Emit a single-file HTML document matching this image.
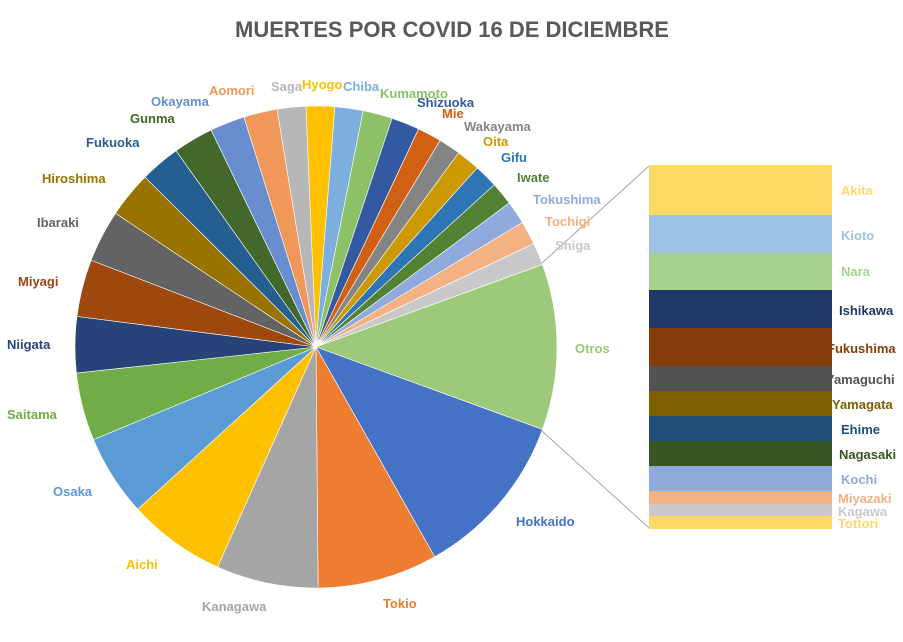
<!DOCTYPE html>
<html><head><meta charset="utf-8"><style>
html,body{margin:0;padding:0;background:#fff;}
svg{display:block;}
text{font-family:"Liberation Sans",Arial,sans-serif;font-weight:bold;font-size:13px;}
</style></head><body>
<svg id="s" width="903" height="642" viewBox="0 0 903 642" xmlns="http://www.w3.org/2000/svg">
<rect width="903" height="642" fill="#fff"/>
<text x="452" y="37" text-anchor="middle" style="font-size:22px" fill="#595959">MUERTES POR COVID 16 DE DICIEMBRE</text>
<g id="pie"></g>
<line x1="542" y1="263" x2="649" y2="166" stroke="#A6A6A6" stroke-width="1"/>
<line x1="542" y1="431" x2="649" y2="528" stroke="#A6A6A6" stroke-width="1"/>
<g>
<rect x="649" y="165" width="183" height="50" fill="#FFD966"/>
<rect x="649" y="215" width="183" height="38" fill="#9DC3E6"/>
<rect x="649" y="253" width="183" height="37" fill="#A9D18E"/>
<rect x="649" y="290" width="183" height="38" fill="#203864"/>
<rect x="649" y="328" width="183" height="38" fill="#843C0C"/>
<rect x="649" y="366" width="183" height="25" fill="#525252"/>
<rect x="649" y="391" width="183" height="25" fill="#7F6000"/>
<rect x="649" y="416" width="183" height="25" fill="#1F4E79"/>
<rect x="649" y="441" width="183" height="25" fill="#375623"/>
<rect x="649" y="466" width="183" height="25" fill="#8FAADC"/>
<rect x="649" y="491" width="183" height="13" fill="#F4B183"/>
<rect x="649" y="504" width="183" height="12" fill="#C9C9C9"/>
<rect x="649" y="516" width="183" height="13" fill="#FFD966"/>
</g>
<g>
<text x="841" y="195" fill="#FFD966">Akita</text>
<text x="841" y="240" fill="#9DC3E6">Kioto</text>
<text x="841" y="276" fill="#A9D18E">Nara</text>
<text x="839" y="315" fill="#203864">Ishikawa</text>
<text x="827" y="353" fill="#843C0C">Fukushima</text>
<text x="826" y="384" fill="#525252">Yamaguchi</text>
<text x="832" y="409" fill="#7F6000">Yamagata</text>
<text x="841" y="434" fill="#1F4E79">Ehime</text>
<text x="839" y="459" fill="#375623">Nagasaki</text>
<text x="841" y="484" fill="#8FAADC">Kochi</text>
<text x="838" y="503" fill="#F4B183">Miyazaki</text>
<text x="838" y="516" fill="#C9C9C9">Kagawa</text>
<text x="838" y="528" fill="#FFD966">Tottori</text>
</g>
<g>
<text x="271" y="91" fill="#B7B7B7">Saga</text>
<text x="302" y="89" fill="#FFC000">Hyogo</text>
<text x="343" y="91" fill="#7CAFDD">Chiba</text>
<text x="380" y="98" fill="#8CC168">Kumamoto</text>
<text x="417" y="107" fill="#335AA1">Shizuoka</text>
<text x="442" y="118" fill="#D26012">Mie</text>
<text x="464" y="131" fill="#848484">Wakayama</text>
<text x="483" y="146" fill="#CC9A00">Oita</text>
<text x="501" y="162" fill="#2E75B6">Gifu</text>
<text x="517" y="182" fill="#548235">Iwate</text>
<text x="533" y="204" fill="#8FAADC">Tokushima</text>
<text x="545" y="226" fill="#F4B183">Tochigi</text>
<text x="555" y="250" fill="#C9C9C9">Shiga</text>
<text x="575" y="353" fill="#99C87A">Otros</text>
<text x="516" y="526" fill="#4472C4">Hokkaido</text>
<text x="383" y="608" fill="#ED7D31">Tokio</text>
<text x="202" y="611" fill="#A5A5A5">Kanagawa</text>
<text x="126" y="569" fill="#FFC000">Aichi</text>
<text x="53" y="496" fill="#5B9BD5">Osaka</text>
<text x="7" y="419" fill="#70AD47">Saitama</text>
<text x="7" y="349" fill="#264478">Niigata</text>
<text x="18" y="286" fill="#9E480E">Miyagi</text>
<text x="37" y="227" fill="#636363">Ibaraki</text>
<text x="42" y="183" fill="#997300">Hiroshima</text>
<text x="86" y="147" fill="#255E91">Fukuoka</text>
<text x="130" y="123" fill="#43682B">Gunma</text>
<text x="151" y="106" fill="#698ED0">Okayama</text>
<text x="209" y="95" fill="#F1975A">Aomori</text>
</g>
</svg>
<script>
var cx=316,cy=347,r=241;
var b=[-2.4,4.5,11.3,18.4,25.2,31,36.3,42,47.7,53.3,58.9,64.6,70,110,150.5,179.5,204.1,227.7,247.4,263.8,277.3,291.1,303.7,314.8,324.5,334.2,342.6,350.7,357.6];
var c=["#FFC000","#7CAFDD","#8CC168","#335AA1","#D26012","#848484","#CC9A00","#2E75B6","#548235","#8FAADC","#F4B183","#C9C9C9","#9DC97A","#4472C4","#ED7D31","#A5A5A5","#FFC000","#5B9BD5","#70AD47","#264478","#9E480E","#636363","#997300","#255E91","#43682B","#698ED0","#F1975A","#B7B7B7"];
var g=document.getElementById("pie"),h="";
function p(a){a=a*Math.PI/180;return (cx+r*Math.sin(a)).toFixed(2)+","+(cy-r*Math.cos(a)).toFixed(2);}
for(var i=0;i<c.length;i++){var a0=b[i],a1=b[i+1],l=(a1-a0)>180?1:0;
h+='<path d="M'+cx+','+cy+' L'+p(a0)+' A'+r+','+r+' 0 '+l+' 1 '+p(a1)+' Z" fill="'+c[i]+'" stroke="#fff" stroke-width="0.6"/>';}
g.innerHTML=h;
</script>
</body></html>
